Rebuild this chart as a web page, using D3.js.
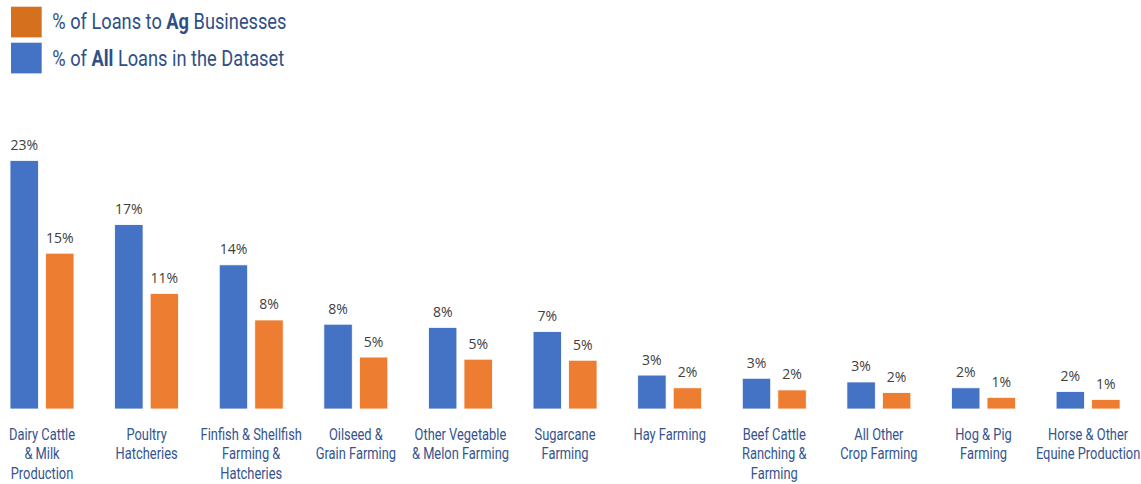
<!DOCTYPE html>
<html>
<head>
<meta charset="utf-8">
<script src="https://cdn.jsdelivr.net/npm/d3@7"></script>
<style>
  html, body { margin: 0; padding: 0; background: #fff; }
  svg { display: block; }
</style>
</head>
<body>
<svg id="chart" width="1141" height="484"></svg>
<script>
// ---- data ----
const categories = [
  "Dairy Cattle|& Milk|Production",
  "Poultry|Hatcheries",
  "Finfish & Shellfish|Farming &|Hatcheries",
  "Oilseed &|Grain Farming",
  "Other Vegetable|& Melon Farming",
  "Sugarcane|Farming",
  "Hay Farming",
  "Beef Cattle|Ranching &|Farming",
  "All Other|Crop Farming",
  "Hog & Pig|Farming",
  "Horse & Other|Equine Production"
];
const allLoans = [23.45, 17.4, 13.6, 8.0, 7.7, 7.3, 3.2, 2.9, 2.55, 2.0, 1.65];
const agLoans  = [14.7, 10.9, 8.4, 4.9, 4.7, 4.6, 2.0, 1.8, 1.55, 1.1, 0.9];
const seriesKeys = ["all", "ag"];

// ---- layout ----
const svg = d3.select("#chart");
const baseline = 409;
const y = d3.scaleLinear().domain([0, 25]).range([baseline, baseline - 25 * 10.6]);
const x0 = d3.scaleBand().domain(categories).range([-10.3, 1140.4])
  .paddingInner(0.3886).paddingOuter(0.1943);
const x1 = d3.scaleBand().domain(seriesKeys).range([0, x0.bandwidth()]).paddingInner(0.2);
const color = { all: "#4472C4", ag: "#ED7D31" };

const rows = categories.map((c, i) => ({ cat: c, all: allLoans[i], ag: agLoans[i] }));

const groups = svg.append("g").selectAll("g").data(rows).join("g")
  .attr("transform", d => `translate(${x0(d.cat)},0)`);

groups.selectAll("rect").data(d => seriesKeys.map(k => ({ k, v: d[k] }))).join("rect")
  .attr("x", d => x1(d.k))
  .attr("y", d => y(d.v))
  .attr("width", x1.bandwidth())
  .attr("height", d => y(0) - y(d.v))
  .attr("fill", d => color[d.k])
  .attr("stroke", "#fff")
  .attr("stroke-width", 0.8);

groups.selectAll("text.val").data(d => seriesKeys.map(k => ({ k, v: d[k] }))).join("text")
  .attr("class", "val")
  .attr("x", d => x1(d.k) + x1.bandwidth() / 2)
  .attr("y", d => y(d.v) - 10.5)
  .attr("text-anchor", "middle")
  .attr("font-family", "'Open Sans', 'Liberation Sans', sans-serif")
  .attr("font-size", 14)
  .attr("fill", "#404040")
  .text(d => Math.round(d.v) + "%");

// category labels (condensed look via horizontal scaling)
const catFont = "Roboto, 'Liberation Sans', sans-serif";
const refWidths = [["Dairy Cattle", 68.7], ["Finfish & Shellfish", 99], ["Grain Farming", 81],
                   ["Other Vegetable", 93.3], ["Equine Production", 102]];
let measured = 0, target = 0;
refWidths.forEach(([s, w]) => {
  const p = svg.append("text").attr("font-family", catFont).attr("font-size", 16).text(s);
  measured += p.node().getComputedTextLength();
  target += w;
  p.remove();
});
const catScale = target / measured;

groups.each(function(d) {
  const g = d3.select(this);
  d.cat.split("|").forEach((line, i) => {
    g.append("text")
      .attr("transform", `translate(${x0.bandwidth() / 2},${440 + i * 19.3}) scale(${catScale},1)`)
      .attr("text-anchor", "middle")
      .attr("font-family", catFont)
      .attr("font-size", 16)
      .attr("fill", "#34548F")
      .text(line);
  });
});

// legend
const legend = svg.append("g");
const legendColors = ["#D4701E", "#4472C4"];
const legendParts = [
  [["% of Loans to ", false], ["Ag", true], [" Businesses", false]],
  [["% of ", false], ["All", true], [" Loans in the Dataset", false]]
];
const legendTexts = [];
legendParts.forEach((parts, i) => {
  legend.append("rect").attr("x", 11).attr("y", 6.7 + i * 36).attr("width", 30.7).attr("height", 30.7)
    .attr("fill", legendColors[i]);
  const t = legend.append("text")
    .attr("font-family", catFont)
    .attr("font-size", 22.5)
    .attr("fill", "#2F4F88");
  t.selectAll("tspan").data(parts).join("tspan")
    .attr("font-weight", d => d[1] ? "bold" : "normal")
    .text(d => d[0]);
  legendTexts.push(t);
});
const legScale = 234.4 / legendTexts[0].node().getComputedTextLength();
legendTexts.forEach((t, i) => {
  t.attr("transform", `translate(52.3,${29.3 + i * 36.4}) scale(${legScale},1)`);
});
</script>
</body>
</html>
